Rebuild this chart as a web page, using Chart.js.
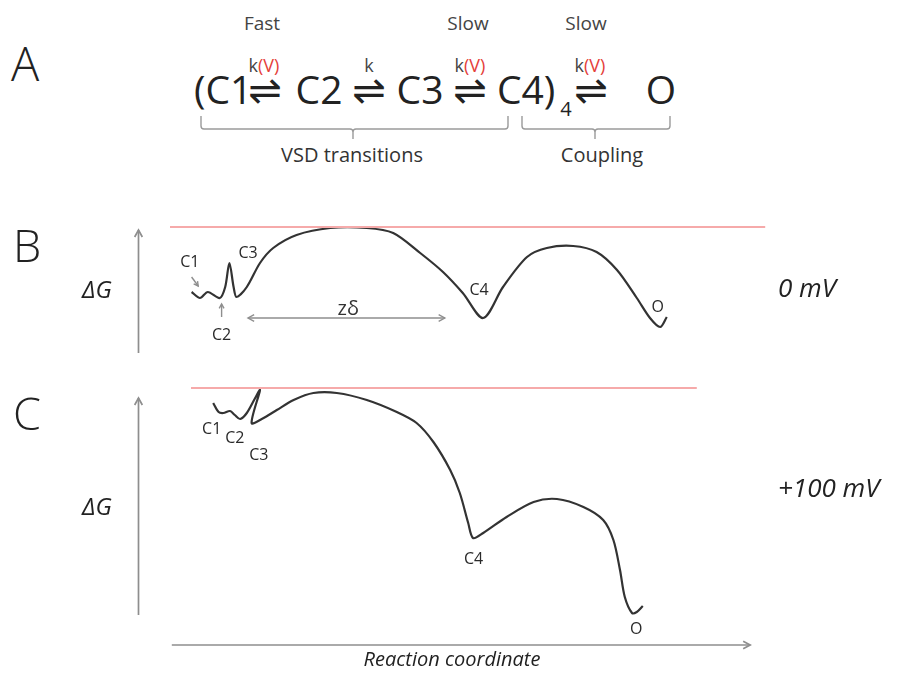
<!DOCTYPE html>
<html>
<head>
<meta charset="utf-8">
<script src="https://cdn.jsdelivr.net/npm/chart.js@4"></script>
<style>
  body { margin: 0; background: #fff; }
  #fig { position: relative; width: 924px; height: 673px; overflow: hidden; font-family: "Open Sans", sans-serif; color: #222; }
  .t { position: absolute; white-space: nowrap; line-height: 1; }
  canvas { position: absolute; left: 0; }
  svg { position: absolute; left: 0; top: 0; }
</style>
</head>
<body>
<div id="fig">
  <svg width="924" height="180">
    <g fill="none" stroke="#9a9a9a" stroke-width="1.4">
      <path d="M201 116 V126 Q201 129 204 129 H350 Q353 129 353 132 V139 M353 132 Q353 129 356 129 H505 Q508 129 508 126 V116"/>
      <path d="M522 116 V126 Q522 129 525 129 H592 Q595 129 595 132 V139 M595 132 Q595 129 598 129 H667 Q670 129 670 126 V116"/>
    </g>
  </svg>
  <canvas id="mv0" width="924" height="170" style="top:200px"></canvas>
  <canvas id="mv100" width="924" height="303" style="top:370px"></canvas>
</div>
<script>
// reaction coordinate (arb.) and free energy (arb.) along the gating path, 0 mV
const coord0 = [3.6, 5.0, 6.3, 8.3, 9.2, 9.9, 10.6, 11.1, 12.8, 15.0, 17.2, 21.1, 26.7, 32.8, 37.2, 41.7, 45.5, 48.8, 52.2, 55.5, 59.5, 62.8, 67.2, 71.1, 74.5, 77.8, 80.0, 81.7, 82.8];
const energy0 = [4.8, 4.2, 4.8, 4.2, 5.3, 7.7, 5.3, 4.3, 5.3, 7.7, 9.2, 10.5, 11.2, 11.2, 10.7, 8.7, 6.8, 4.7, 2.2, 5.3, 8.3, 9.2, 9.4, 8.8, 7.0, 4.2, 2.2, 1.3, 2.3];

// same path at +100 mV
const coord100 = [7.2, 8.1, 8.9, 10.0, 10.8, 11.7, 12.8, 14.2, 15.0, 13.6, 15.3, 17.8, 20.6, 23.9, 27.8, 32.8, 37.8, 41.1, 43.9, 46.7, 48.3, 49.7, 50.5, 52.2, 56.1, 60.6, 64.5, 68.9, 72.2, 73.9, 75.0, 75.8, 77.0, 77.8, 78.8];
const energy100 = [24.2, 23.3, 23.2, 23.4, 23.0, 22.6, 23.2, 24.7, 25.5, 22.2, 22.6, 23.5, 24.5, 25.2, 25.2, 24.5, 23.3, 22.2, 20.3, 17.5, 15.2, 12.2, 10.7, 11.2, 12.8, 14.3, 14.6, 13.8, 12.5, 10.5, 7.5, 4.8, 3.2, 3.3, 3.9];

// highest barrier reference level
const barrier0 = 11.3;
const barrier100 = 25.7;
const barrierSpan0 = [0, 99.2];
const barrierSpan100 = [3.5, 87.8];

const stateNames = ['C1', 'C2', 'C3', 'C4', 'O'];

const fig = document.getElementById('fig');

function put(html, x, base, size, o = {}) {
  const s = document.createElement('span');
  s.className = 't';
  s.innerHTML = html;
  const asc = o.asc || 0.888;
  s.style.fontSize = size + 'px';
  s.style.left = x + 'px';
  s.style.top = (base - asc * size) + 'px';
  if (o.center) s.style.transform = 'translateX(-50%)';
  if (o.italic) s.style.fontStyle = 'italic';
  if (o.weight) s.style.fontWeight = o.weight;
  if (o.color) s.style.color = o.color;
  if (o.font) s.style.fontFamily = o.font;
  fig.appendChild(s);
}

const red = '<span style="color:#e5403a">(V)</span>';
const eq = '\u21CC';

// kinetic scheme
put('A', 11, 82, 47, { weight: 300 });
put('Fast', 262, 31, 19, { center: true, color: '#444' });
put('Slow', 468, 31, 19, { center: true, color: '#444' });
put('Slow', 586, 31, 19, { center: true, color: '#444' });
put('k' + red, 264, 72, 18, { center: true, color: '#444' });
put('k', 369, 72, 18, { center: true, color: '#444' });
put('k' + red, 470, 72, 18, { center: true, color: '#444' });
put('k' + red, 590, 72, 18, { center: true, color: '#444' });
put('(C1', 194, 104, 39);
put('C2', 319, 104, 39, { center: true });
put('C3', 420, 104, 39, { center: true });
put('C4)', 497, 104, 39);
put('4', 566, 117, 20, { center: true });
put('O', 661, 104, 39, { center: true });
[265, 369, 470, 591].forEach(cx => put(eq, cx, 104, 40, { center: true, font: '"DejaVu Sans"', asc: 0.846 }));
put('VSD transitions', 352, 163, 20, { center: true, color: '#333' });
put('Coupling', 602, 163, 20, { center: true, color: '#333' });

// panel labels
put('B', 13, 262, 45, { weight: 300 });
put('C', 13, 430, 45, { weight: 300 });
put('\u0394G', 82, 298, 24, { italic: true });
put('\u0394G', 82, 515, 24, { italic: true });
put('0 mV', 778, 297, 26, { italic: true });
put('+100 mV', 778, 497, 26, { italic: true });
put('Reaction coordinate', 452, 667, 20, { italic: true, center: true });

function arrow(ctx, x1, y1, x2, y2, head, both) {
  ctx.beginPath();
  ctx.moveTo(x1, y1);
  ctx.lineTo(x2, y2);
  ctx.stroke();
  const tips = both ? [[x2, y2, x1, y1], [x1, y1, x2, y2]] : [[x2, y2, x1, y1]];
  tips.forEach(([tx, ty, fx, fy]) => {
    const a = Math.atan2(ty - fy, tx - fx);
    ctx.beginPath();
    ctx.moveTo(tx - head * Math.cos(a - 0.5), ty - head * Math.sin(a - 0.5));
    ctx.lineTo(tx, ty);
    ctx.lineTo(tx - head * Math.cos(a + 0.5), ty - head * Math.sin(a + 0.5));
    ctx.stroke();
  });
}

// axes, state names and annotation arrows drawn in data units
const landscapeMarks = {
  id: 'landscapeMarks',
  afterDatasetsDraw(chart, args, opts) {
    const { ctx, scales: { x, y } } = chart;
    const px = v => x.getPixelForValue(v);
    const py = v => y.getPixelForValue(v);
    ctx.save();
    ctx.strokeStyle = '#8e8e8e';
    ctx.lineWidth = 1.7;
    arrow(ctx, px(opts.axisX), py(opts.axisFrom), px(opts.axisX), py(opts.axisTo), 8);
    if (opts.baseline) {
      const [b0, b1] = opts.baseline;
      arrow(ctx, px(b0), py(0), px(b1), py(0), 8);
    }
    ctx.lineWidth = 1.4;
    (opts.pointers || []).forEach(p => arrow(ctx, px(p[0]), py(p[1]), px(p[2]), py(p[3]), 5));
    if (opts.span) {
      const s = opts.span;
      arrow(ctx, px(s.from), py(s.y), px(s.to), py(s.y), 7, true);
      ctx.fillStyle = '#333';
      ctx.font = '20px "Open Sans"';
      ctx.textAlign = 'center';
      ctx.textBaseline = 'middle';
      ctx.fillText(s.label, px(s.labelX), py(s.labelY));
    }
    ctx.fillStyle = '#2a2a2a';
    ctx.font = '16px "Open Sans"';
    ctx.textAlign = 'center';
    ctx.textBaseline = 'middle';
    opts.labels.forEach((pos, i) => ctx.fillText(stateNames[i], px(pos[0]), py(pos[1])));
    ctx.restore();
  }
};

function landscape(id, xs, ys, level, span, yMax, padding, marks) {
  const curve = xs.map((v, i) => ({ x: v, y: ys[i] }));
  new Chart(document.getElementById(id), {
    type: 'scatter',
    data: {
      datasets: [
        {
          data: [{ x: span[0], y: level }, { x: span[1], y: level }],
          showLine: true, borderColor: '#f6aaaa', borderWidth: 2, pointRadius: 0, clip: false
        },
        {
          data: curve,
          showLine: true, borderColor: '#333', borderWidth: 2.2, pointRadius: 0, tension: 0.3, clip: false
        }
      ]
    },
    options: {
      responsive: false,
      animation: false,
      events: [],
      layout: { padding },
      scales: {
        x: { type: 'linear', min: 0, max: 100, display: false },
        y: { min: 0, max: yMax, display: false }
      },
      plugins: {
        legend: { display: false },
        tooltip: { enabled: false },
        landscapeMarks: marks
      }
    },
    plugins: [landscapeMarks]
  });
}

landscape('mv0', coord0, energy0, barrier0, barrierSpan0, 12,
  { left: 170, right: 154, top: 20, bottom: 30 },
  {
    axisX: -5.25, axisFrom: -1.3, axisTo: 11.0,
    labels: [[3.3, 7.8], [8.6, 0.5], [13.0, 8.7], [51.5, 5.0], [81.3, 3.3]],
    pointers: [[3.6, 6.3, 4.7, 5.4], [8.6, 2.3, 8.6, 3.6]],
    span: { from: 13.0, to: 45.8, y: 2.2, label: 'z\u03B4', labelX: 29.7, labelY: 3.1 }
  });

landscape('mv100', coord100, energy100, barrier100, barrierSpan100, 26,
  { left: 170, right: 154, top: 15, bottom: 28 },
  {
    axisX: -5.25, axisFrom: 3.0, axisTo: 24.7,
    baseline: [0.3, 96.7],
    labels: [[6.95, 21.6], [10.8, 20.7], [14.8, 19.0], [50.6, 8.6], [77.7, 1.6]]
  });
</script>
</body>
</html>
